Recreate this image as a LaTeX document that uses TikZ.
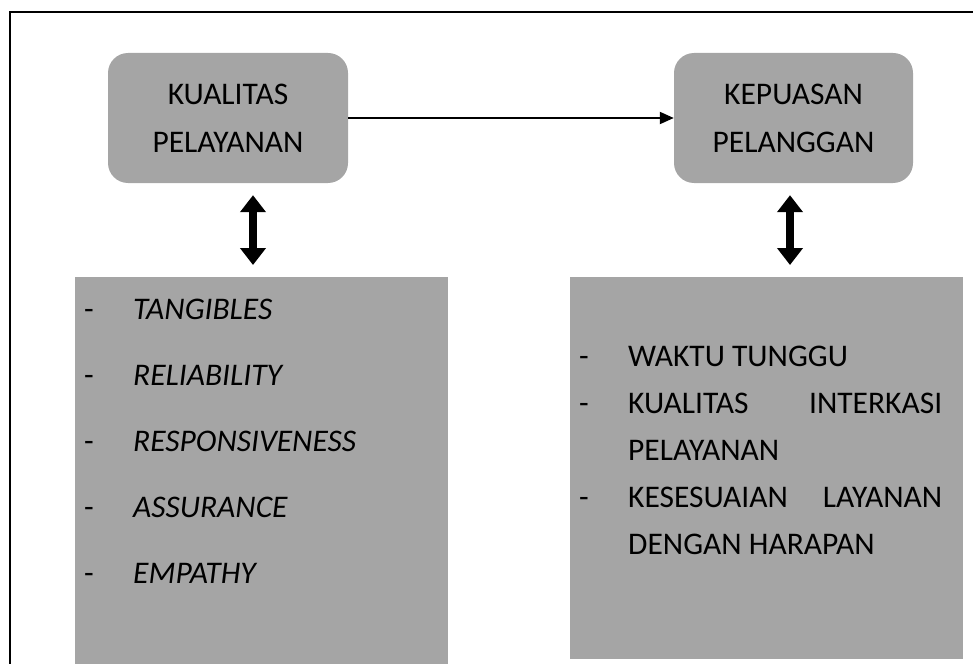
\documentclass[tikz,border=0pt]{standalone}
\usepackage{fontspec}
\setmainfont{Carlito}
\usetikzlibrary{arrows.meta,positioning}
\definecolor{boxgray}{RGB}{165,165,165}

\tikzset{
  headbox/.style={fill=boxgray, rounded corners=20pt, minimum width=240pt, minimum height=130pt,
    align=center, inner sep=0pt, font=\fontsize{31.5}{48}\selectfont},
  listbox/.style={fill=boxgray, anchor=north west, inner sep=0pt},
  item/.style={anchor=base west, inner sep=0pt, font=\fontsize{31.5}{36}\selectfont},
  dblarrow/.style={line width=8pt, {Triangle[width=25pt,length=17pt]}-{Triangle[width=25pt,length=17pt]},
    shorten <=12pt, shorten >=12pt},
  flow/.style={line width=2pt, -{Triangle[width=12pt,length=14pt]}}
}

\begin{document}
\begin{tikzpicture}[x=1pt,y=-1pt]
  \useasboundingbox (0,0) rectangle (973,663);
  \clip (0,0) rectangle (973,663);
  \draw[line width=2.5pt] (10,12) rectangle (990,680);

  % variabel
  \node[headbox] (kualitas) at (228,118) {KUALITAS\\PELAYANAN};
  \node[headbox, minimum width=239pt] (kepuasan) at (793.5,118) {KEPUASAN\\PELANGGAN};
  \node[listbox, minimum width=373pt, minimum height=390pt] (dimensi) at (75,277) {};
  \node[listbox, minimum width=393pt, minimum height=382pt] (indikator) at (570,277) {};

  \draw[flow] (kualitas) -- (kepuasan);
  \draw[dblarrow] ([xshift=25pt]kualitas.south) -- ([xshift=25pt]kualitas.south |- dimensi.north);
  \draw[dblarrow] ([xshift=-3.5pt]kepuasan.south) -- ([xshift=-3.5pt]kepuasan.south |- indikator.north);

  % dimensi kualitas pelayanan
  \foreach \t [count=\i] in {TANGIBLES,RELIABILITY,RESPONSIVENESS,ASSURANCE,EMPATHY}
    \node[item] (dim\i) at (84,{253+66*\i}) {\makebox[49pt][l]{-}\textit{\t}};

  % indikator kepuasan pelanggan
  \foreach \d/\t [count=\i] in {{-}/{WAKTU TUNGGU},{-}/{KUALITAS\hfill INTERKASI},{}/{PELAYANAN},
      {-}/{KESESUAIAN\hfill LAYANAN},{}/{DENGAN HARAPAN}}
    \node[item] (ind\i) at (579,{319+47*\i}) {\makebox[49pt][l]{\d}\makebox[314pt][l]{\t}};
\end{tikzpicture}
\end{document}
